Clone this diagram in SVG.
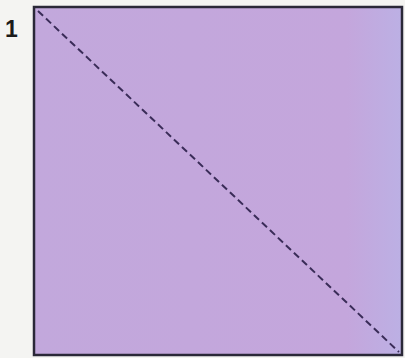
<svg xmlns="http://www.w3.org/2000/svg" width="405" height="358" viewBox="0 0 405 358">
<style>
.lbl{font-family:"Liberation Sans",Arial,sans-serif;font-weight:bold;font-size:23px;fill:#1a1a1a}
</style>
<defs>
<linearGradient id="g" x1="0" y1="0" x2="1" y2="0">
<stop offset="0" stop-color="#c2a8dc"/>
<stop offset="0.85" stop-color="#c4a6dc"/>
<stop offset="1" stop-color="#bcb0e4"/>
</linearGradient>
</defs>
<rect width="405" height="358" fill="#f4f4f2"/>
<g id="square">
<rect x="34" y="7" width="368" height="348" fill="url(#g)" stroke="#2a2838" stroke-width="2.5"/>
</g>
<g id="label"><text class="lbl" x="5" y="37">1</text></g>
<g id="connectors">
<line x1="38" y1="11" x2="399" y2="352" stroke="#3a2c58" stroke-width="2" stroke-dasharray="7,4"/>
</g>
</svg>
